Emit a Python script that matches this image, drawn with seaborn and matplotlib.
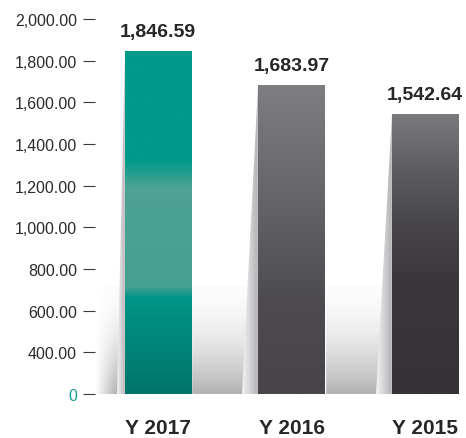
import numpy as np
import pandas as pd
import matplotlib
matplotlib.use('Agg')
import matplotlib.pyplot as plt
import seaborn as sns
from matplotlib.colors import LinearSegmentedColormap
from matplotlib.patches import Polygon

# Chart data
years = ['Y 2017', 'Y 2016', 'Y 2015']
values = [1846.59, 1683.97, 1542.64]
value_labels = ['1,846.59', '1,683.97', '1,542.64']

# the axis is broken: the "0" label sits where 200 would be
tick_values = [200, 400, 600, 800, 1000, 1200, 1400, 1600, 1800, 2000]
tick_labels = ['0', '400.00', '600.00', '800.00', '1,000.00', '1,200.00',
               '1,400.00', '1,600.00', '1,800.00', '2,000.00']

# gradient stops for each bar, bottom -> top
bar_stops = [
    [(0.0, '#00746a'), (0.28, '#009587'), (0.31, '#45a091'),
     (0.6, '#4da394'), (0.68, '#009a8a'), (1.0, '#009a8a')],
    [(0.0, '#47454a'), (0.3, '#4d4b50'), (0.6, '#636267'), (1.0, '#7e7d82')],
    [(0.0, '#343237'), (0.4, '#39373c'), (0.6, '#47454a'), (0.8, '#5d5c61'), (1.0, '#7b7a7f')],
]
shadow_widths = [0.06, 0.12, 0.12]

sns.set_style('white')
plt.rcParams['font.family'] = ['Liberation Sans', 'DejaVu Sans']

fig = plt.figure(figsize=(4.66, 4.39), dpi=100)
ax = fig.add_axes([95 / 466, 44 / 439, 371 / 466, 375 / 439])

df = pd.DataFrame({'year': years, 'value': values})
sns.barplot(data=df, x='year', y='value', ax=ax, width=0.5,
            color='#888888', saturation=1, zorder=3)

ymin, ymax = 200, 2000
xmin, xmax = -0.472, 2.307

# soft floor shadow behind the bars (top row of the image = top of the fade)
ny, nx = 200, 200
t = np.linspace(0, 1, ny).reshape(-1, 1)
xs = np.linspace(xmin, 1.75, nx).reshape(1, -1)
hmask = np.clip((xs - xmin) / 0.15, 0, 1)
alpha = (0.04 + 0.96 * t ** 1.8) * hmask
floor = np.zeros((ny, nx, 4))
floor[..., :3] = 0.70
floor[..., 3] = alpha
ax.imshow(floor, extent=[xmin, 1.75, ymin, 714], origin='upper',
          aspect='auto', zorder=1, interpolation='bilinear')

grad_v = np.linspace(0, 1, 256).reshape(-1, 1)
grad_h = np.linspace(0, 1, 64).reshape(1, -1)
shadow_cmap = LinearSegmentedColormap.from_list('sh', ['#f4f3f5', '#b0aeb1'])

for i, p in enumerate(ax.patches):
    x0, w, top = p.get_x(), p.get_width(), p.get_height()
    cmap = LinearSegmentedColormap.from_list('bar%d' % i, bar_stops[i])
    im = ax.imshow(grad_v, cmap=cmap, extent=[x0, x0 + w, ymin, top],
                   origin='lower', aspect='auto', zorder=4)
    im.set_clip_path(p)

    # slanted shadow on the left side
    d = shadow_widths[i]
    poly = Polygon([(x0, top), (x0, ymin), (x0 - d, ymin)], closed=True,
                   facecolor='none', edgecolor='none')
    ax.add_patch(poly)
    sh = ax.imshow(grad_h, cmap=shadow_cmap, extent=[x0 - d, x0, ymin, top],
                   origin='lower', aspect='auto', zorder=2)
    sh.set_clip_path(poly)

    ax.annotate(value_labels[i], (x0 + w / 2, values[i]), xytext=(0, 8),
                textcoords='offset points', ha='center', va='bottom',
                fontsize=14, fontweight='bold', color='#262626')

ax.set_xlim(xmin, xmax)
ax.set_ylim(ymin, ymax)

ax.set_yticks(tick_values, tick_labels)
ax.tick_params(axis='y', left=True, length=8.6, width=0.8, color='#3a3a3a',
               pad=4.3, labelsize=11.5, labelcolor='#2b2b2b')
ax.get_yticklabels()[0].set_color('#1b9c90')

ax.tick_params(axis='x', bottom=False, length=0, pad=17, labelsize=15,
               labelcolor='#262626')
for lbl in ax.get_xticklabels():
    lbl.set_fontweight('bold')

ax.set_xlabel('')
ax.set_ylabel('')
for s in ax.spines.values():
    s.set_visible(False)

fig.savefig('out.png', dpi=100)
